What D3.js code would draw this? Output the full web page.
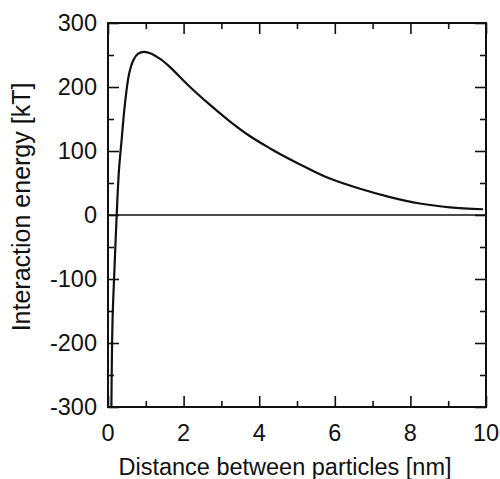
<!DOCTYPE html>
<html>
<head>
<meta charset="utf-8">
<script src="https://cdn.jsdelivr.net/npm/d3@7"></script>
<style>
  body { margin: 0; background: #fff; }
  #chart { width: 500px; height: 479px; }
  text { font-family: "Liberation Sans", Arial, sans-serif; fill: #111; }
</style>
</head>
<body>
<div id="chart"></div>
<script>
// distance [nm] and energy [kT]
const distance = [0.09, 0.12, 0.17, 0.23, 0.29, 0.36, 0.44, 0.56, 0.68, 0.8, 0.95, 1.15, 1.4, 1.64, 2.17, 2.7, 3.23, 3.76, 4.29, 4.81, 5.35, 5.87, 6.67, 7.46, 8.25, 9.05, 9.92];
const energy = [-300, -165, -86, 0, 70, 117, 169, 221, 243, 252, 255, 252, 243, 231, 200, 172, 146, 123, 104, 87, 71, 57, 41, 28, 18, 12, 9];
const xTicks = [0, 2, 4, 6, 8, 10];
const yTicks = [-300, -200, -100, 0, 100, 200, 300];
const xTitle = "Distance between particles [nm]";
const yTitle = "Interaction energy [kT]";

const W = 500, H = 479;
const margin = { left: 108, right: 14, top: 23, bottom: 72 };
const innerW = W - margin.left - margin.right;
const innerH = H - margin.top - margin.bottom;

const svg = d3.select("#chart").append("svg").attr("width", W).attr("height", H);
const g = svg.append("g").attr("transform", `translate(${margin.left},${margin.top})`);

const x = d3.scaleLinear().domain([0, 10]).range([0, innerW]);
const y = d3.scaleLinear().domain([-300, 300]).range([innerH, 0]);

const major = 11, minor = 6;
const xMinor = d3.range(1, 10, 2);
const yMinor = d3.range(-250, 300, 100);

// inward ticks on all four sides
function ticks(axisFn, scale, vals, len, tr) {
  const a = g.append("g").attr("transform", tr)
    .call(axisFn(scale).tickValues(vals).tickSize(len).tickFormat(""));
  a.select(".domain").remove();
  a.selectAll(".tick line").attr("stroke", "#111").attr("stroke-width", 1.6);
}
ticks(d3.axisTop, x, xTicks, major, `translate(0,${innerH})`);
ticks(d3.axisTop, x, xMinor, minor, `translate(0,${innerH})`);
ticks(d3.axisBottom, x, xTicks, major, "translate(0,0)");
ticks(d3.axisBottom, x, xMinor, minor, "translate(0,0)");
ticks(d3.axisRight, y, yTicks, major, "translate(0,0)");
ticks(d3.axisRight, y, yMinor, minor, "translate(0,0)");
ticks(d3.axisLeft, y, yTicks, major, `translate(${innerW},0)`);
ticks(d3.axisLeft, y, yMinor, minor, `translate(${innerW},0)`);

// tick labels
g.selectAll(".xl").data(xTicks).join("text")
  .attr("x", d => x(d)).attr("y", innerH + 34)
  .attr("text-anchor", "middle").style("font-size", "23.5px")
  .text(d => d);
g.selectAll(".yl").data(yTicks).join("text")
  .attr("x", -11).attr("y", d => y(d) + 8)
  .attr("text-anchor", "end").style("font-size", "23.5px")
  .text(d => d);

// zero line
g.append("line")
  .attr("x1", x(0)).attr("x2", x(10))
  .attr("y1", y(0)).attr("y2", y(0))
  .attr("stroke", "#111").attr("stroke-width", 1.5);

// curve
g.append("clipPath").attr("id", "clipper").append("rect")
  .attr("width", innerW).attr("height", innerH);
const pts = distance.map((d, i) => [d, energy[i]]);
g.append("path").datum(pts)
  .attr("clip-path", "url(#clipper)")
  .attr("fill", "none").attr("stroke", "#111").attr("stroke-width", 2.2)
  .attr("d", d3.line().x(d => x(d[0])).y(d => y(d[1])).curve(d3.curveCatmullRom.alpha(0.5)));

// frame
g.append("rect").attr("width", innerW).attr("height", innerH)
  .attr("fill", "none").attr("stroke", "#111").attr("stroke-width", 2);

// titles
svg.append("text")
  .attr("x", margin.left + innerW / 2 - 12).attr("y", 475)
  .attr("text-anchor", "middle").style("font-size", "23.5px")
  .text(xTitle);
svg.append("text")
  .attr("transform", `translate(30,${margin.top + innerH / 2 - 8}) rotate(-90)`)
  .attr("text-anchor", "middle").style("font-size", "25px")
  .text(yTitle);
</script>
</body>
</html>
